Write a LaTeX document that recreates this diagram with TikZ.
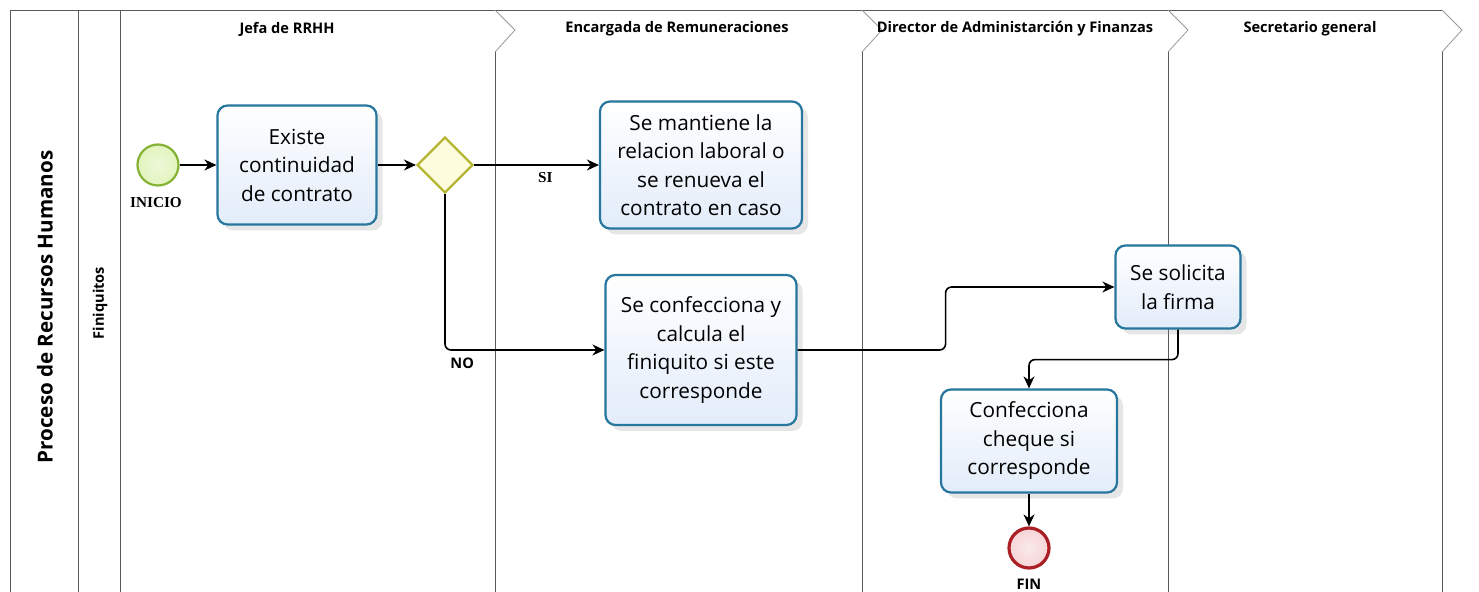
\documentclass[tikz,border=0pt]{standalone}
\usepackage{fontspec}
\setmainfont{Open Sans}
\newfontfamily\serifbold{Liberation Serif}
\usepackage{tikz}
\usetikzlibrary{shadows}
\usetikzlibrary{positioning}
\usetikzlibrary{arrows,arrows.meta,shapes}
\usetikzlibrary{calc}
\definecolor{taskline}{RGB}{38,118,158}
\definecolor{taskfill}{RGB}{226,236,250}
\definecolor{gwline}{RGB}{181,181,52}
\definecolor{gwfill}{RGB}{253,253,222}
\definecolor{startline}{RGB}{132,178,52}
\definecolor{startfill}{RGB}{226,244,190}
\definecolor{endline}{RGB}{170,30,36}
\definecolor{endfill}{RGB}{246,212,214}
\definecolor{laneline}{RGB}{90,90,90}
\tikzstyle{task}=[rectangle,rounded corners=5pt,draw=taskline,line width=1.1pt,top color=white,bottom color=taskfill,align=center,inner sep=0pt,font=\fontsize{10.4}{14.25}\selectfont,drop shadow={opacity=0.2,shadow xshift=3pt,shadow yshift=-3pt}]
\tikzstyle{gateway}=[diamond,draw=gwline,fill=gwfill,line width=1.1pt,minimum size=28pt,inner sep=0pt]
\tikzstyle{startev}=[circle,draw=startline,inner color=startfill!60,outer color=startfill,line width=1.1pt,minimum size=20.5pt,inner sep=0pt]
\tikzstyle{endev}=[circle,draw=endline,inner color=endfill!50,outer color=endfill,line width=1.6pt,minimum size=20pt,inner sep=0pt]
\tikzstyle{flow}=[-{Stealth[length=6pt,width=5.5pt]},thick,rounded corners=3pt]
\tikzstyle{lanehead}=[font=\fontsize{7.3}{8}\selectfont\bfseries]
\tikzstyle{weight}=[font=\fontsize{7.3}{8}\selectfont\bfseries]
\tikzstyle{serifweight}=[font=\fontsize{7.6}{8}\selectfont\serifbold\bfseries]

\begin{document}
\begin{tikzpicture}[x=0.5pt,y=-0.5pt]
    \useasboundingbox (0,0) rectangle (1479,592);

%Pool and lanes
    \draw[laneline] (10,600) -- (10,10) -- (1442,10);
    \foreach \xx in {78,120}
        \draw[laneline] (\xx,10) -- (\xx,600);
    \foreach \xx in {495,862,1168,1442}
    {
        \draw[black!40] (\xx,10) -- (\xx+20,30) -- (\xx,52);
        \draw[laneline] (\xx,52) -- (\xx,600);
    }
    \node[rotate=90,font=\fontsize{10.3}{11}\selectfont\bfseries] (pool) at (45,307) {Proceso de Recursos Humanos};
    \node[rotate=90,lanehead] (lane) at (100,303) {Finiquitos};
    \foreach \pos/\name/\label in {{(287,29)/h1/Jefa de RRHH}, {(677,29)/h2/Encargada de Remuneraciones}, {(1015,29)/h3/Director de Administarción y Finanzas}, {(1310,29)/h4/Secretario general}}
        \node[lanehead] (\name) at \pos {\label};

%Events and gateway
    \node[startev] (inicio) at (158,165) {};
    \node[serifweight, below=2pt of inicio, xshift=-1pt] (inicioT) {INICIO};
    \node[gateway] (gw) at (445,165) {};
    \node[endev] (fin) at (1029,548) {};
    \node[weight, below=1pt of fin] (finT) {FIN};

%Tasks
    \foreach \pos/\name/\w/\h/\label in {{(297,165)/existe/79.5/59.5/Existe\\continuidad\\de contrato}, {(701,165)/mantiene/101/63.5/Se mantiene la\\relacion laboral o\\se renueva el\\contrato en caso}, {(701,350)/confecciona/95.5/75/Se confecciona y\\calcula el\\finiquito si este\\corresponde}, {(1178,287)/solicita/62.5/41.5/Se solicita\\la firma}, {(1029,441)/cheque/88/51.5/Confecciona\\cheque si\\corresponde}}
        \node[task,minimum width=\w pt,minimum height=\h pt] (\name) at \pos {\label};

%Flows
    \draw[flow] (inicio) -- (existe);
    \draw[flow] (existe) -- (gw);
    \draw[flow] (gw) -- node[serifweight,below,pos=0.57] {SI} (mantiene);
    \draw[flow] (gw.south) |- node[weight,below right,pos=0.5,xshift=-1pt] {NO} (confecciona.west);
    \draw[flow] (confecciona.east) -- ++(148,0) |- (solicita.west);
    \draw[flow] (solicita.south) -- ++(0,30) -| (cheque.north);
    \draw[flow] (cheque) -- (fin);

\end{tikzpicture}
\end{document}
